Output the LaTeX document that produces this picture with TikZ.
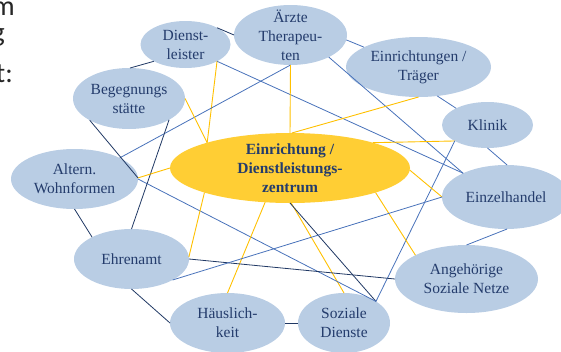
\documentclass[tikz,border=0pt]{standalone}
\usepackage{fontspec}
\setmainfont{Liberation Serif}
\newfontfamily\carlito{Carlito}
\usetikzlibrary{shapes.geometric}
\definecolor{bubblefill}{RGB}{185,205,228}
\definecolor{hubfill}{RGB}{255,206,52}
\definecolor{inkblue}{RGB}{36,60,108}
\definecolor{navyline}{RGB}{32,56,100}
\definecolor{midline}{RGB}{72,114,186}
\definecolor{goldline}{RGB}{255,192,0}
\tikzset{
bubble/.style={ellipse, fill=bubblefill, text=inkblue, align=center, inner xsep=0pt, inner ysep=-8pt, outer sep=0pt, font=\fontsize{15.5}{19}\selectfont}, % the light blue partners
hub/.style={bubble, fill=hubfill, font=\fontsize{15.5}{19}\selectfont\bfseries}, % the centre in the middle
darkedge/.style={draw=navyline, line width=0.8pt}, % dark links
lightedge/.style={draw=midline, line width=0.8pt}, % lighter links
goldedge/.style={draw=goldline, line width=0.9pt}, % links to the centre
cut/.style={font=\carlito\fontsize{28}{34}\selectfont, text=black!85, inner sep=0pt, anchor=base east}, % text cut off at the left border
}

\begin{document}
\begin{tikzpicture}[x=1pt,y=-1pt]
\useasboundingbox (0,0) rectangle (561,351);
\clip (0,0) rectangle (561,351);
\node[cut] (cut1) at (15,15) {m};
\node[cut] (cut2) at (5,41) {g};
\node[cut] (cut3) at (13,82) {t:};
\node[hub, minimum width=240pt, minimum height=70pt] (zentrum) at (290,168) {Einrichtung /\\Dienstleistungs-\\zentrum};
\node[bubble, minimum width=90pt, minimum height=47pt] (dienst) at (185.5,44.5) {Dienst-\\leister};
\node[bubble, minimum width=113pt, minimum height=60pt] (aerzte) at (290.5,35) {Ärzte\\Therapeu-\\ten};
\node[bubble, minimum width=145pt, minimum height=60pt] (traeger) at (418.5,67) {Einrichtungen /\\Träger};
\node[bubble, minimum width=91pt, minimum height=46pt] (klinik) at (487.5,125) {Klinik};
\node[bubble, minimum width=128pt, minimum height=64pt] (handel) at (506,197) {Einzelhandel};
\node[bubble, minimum width=143pt, minimum height=68pt] (angeh) at (466.5,279) {Angehörige\\Soziale Netze};
\node[bubble, minimum width=92pt, minimum height=60pt] (sozial) at (344,323) {Soziale\\Dienste};
\node[bubble, minimum width=115pt, minimum height=60pt] (haus) at (227.5,323) {Häuslich-\\keit};
\node[bubble, minimum width=115pt, minimum height=60pt] (ehren) at (131.5,259) {Ehrenamt};
\node[bubble, minimum width=127pt, minimum height=60pt] (wohn) at (74.5,179) {Altern.\\Wohnformen};
\node[bubble, minimum width=112pt, minimum height=61pt] (begeg) at (129,98.5) {Begegnungs\\stätte};
\path (dienst.208) edge[darkedge] (begeg.88)
(dienst.28) edge[darkedge] (aerzte.180)
(dienst.-28) edge[lightedge] (handel.151)
edge[goldedge] (zentrum.163)
(aerzte.-5) edge[lightedge] (traeger.160)
(aerzte.-30) edge[lightedge] (handel.151)
(aerzte.-90) edge[lightedge] (wohn.25)
edge[goldedge] (zentrum.90)
(traeger.-57) edge[lightedge] (klinik.152)
(traeger.-90) edge[goldedge] (zentrum.87)
(klinik.206) edge[goldedge] (zentrum.17)
edge[lightedge] (sozial.34)
(klinik.-90) edge[lightedge] (handel.88)
(handel.180) edge[goldedge] (zentrum.-1)
(handel.-88) edge[lightedge] (angeh.90)
(angeh.155) edge[goldedge] (zentrum.-16)
(sozial.90) edge[goldedge] (zentrum.-88)
(sozial.34) edge[darkedge] (zentrum.-90)
edge[lightedge] (wohn.0)
(sozial.180) edge[darkedge] (haus.0)
(haus.90) edge[goldedge] (zentrum.234)
(haus.180) edge[darkedge] (ehren.-90)
(ehren.0) edge[darkedge] (angeh.180)
(ehren.-27) edge[lightedge] (handel.180)
(ehren.2) edge[goldedge] (zentrum.196)
(ehren.90) edge[darkedge] (begeg.-28)
(ehren.151) edge[darkedge] (wohn.-90)
(wohn.1) edge[goldedge] (zentrum.180)
edge[darkedge] (begeg.209)
(begeg.0) edge[goldedge] (zentrum.163);
\end{tikzpicture}
\end{document}
